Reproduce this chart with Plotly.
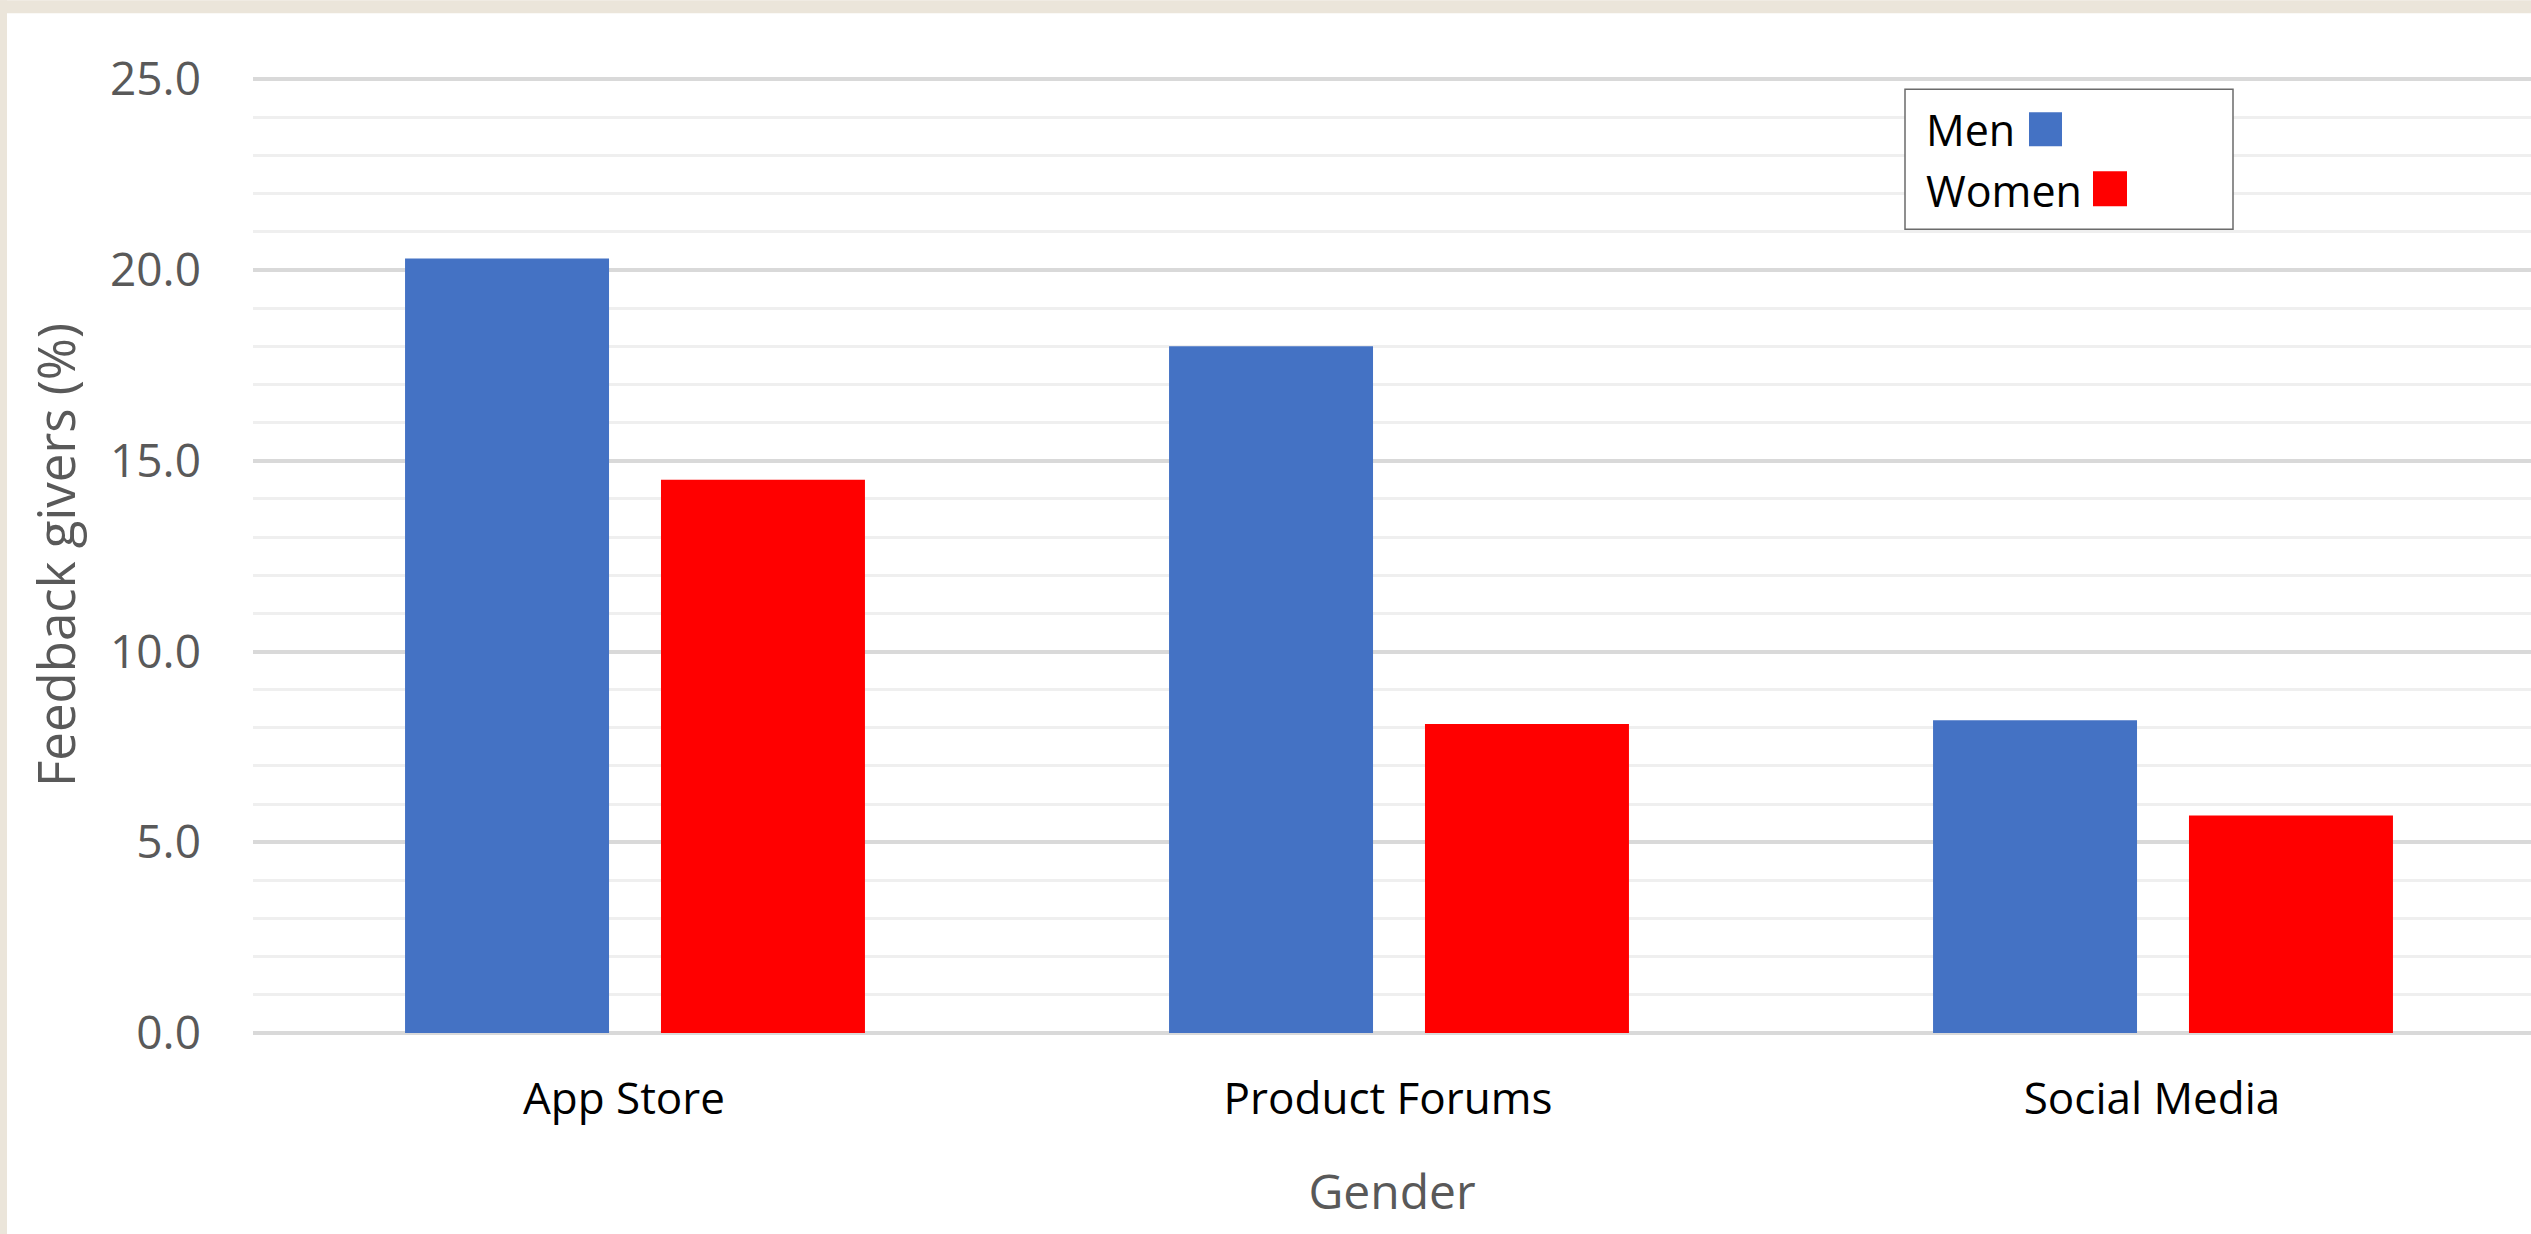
import plotly.graph_objects as go

categories = ["App Store", "Product Forums", "Social Media"]
men = [20.3, 18.0, 8.2]
women = [14.5, 8.1, 5.7]
series_names = ["Men", "Women"]
y_ticks = [0, 5, 10, 15, 20, 25]

W, H = 2531, 1234
Y_MAX = 25.06
UNIT = 38.16
L, R = 253, 0
B = 201
PH = Y_MAX * UNIT
T = H - B - PH
PW = W - L - R
CAT_W = 764.0

def px_x(x):
    return (x - L) / PW

def px_y(y):
    return (H - B - y) / PH

BLUE = "#4472C4"
RED = "#FF0000"
BEIGE = "#ebe5da"
FONT = "Open Sans"

fig = go.Figure()
fig.add_trace(go.Bar(x=categories, y=men, name=series_names[0], marker=dict(color=BLUE, line=dict(width=0)), showlegend=False))
fig.add_trace(go.Bar(x=categories, y=women, name=series_names[1], marker=dict(color=RED, line=dict(width=0)), showlegend=False))

shapes = [
    dict(type="rect", xref="paper", yref="paper", x0=px_x(0), x1=px_x(W), y0=px_y(0), y1=px_y(13),
         fillcolor=BEIGE, line=dict(width=0), layer="below"),
    dict(type="rect", xref="paper", yref="paper", x0=px_x(0), x1=px_x(7), y0=px_y(0), y1=px_y(H),
         fillcolor=BEIGE, line=dict(width=0), layer="below"),
    dict(type="rect", xref="paper", yref="paper", x0=px_x(1905), x1=px_x(2233), y0=px_y(89), y1=px_y(229),
         fillcolor="white", line=dict(color="#6b6b6b", width=1.5), layer="above"),
    dict(type="rect", xref="paper", yref="paper", x0=px_x(2029), x1=px_x(2062), y0=px_y(112), y1=px_y(146),
         fillcolor=BLUE, line=dict(width=0), layer="above"),
    dict(type="rect", xref="paper", yref="paper", x0=px_x(2093), x1=px_x(2127), y0=px_y(171), y1=px_y(206),
         fillcolor=RED, line=dict(width=0), layer="above"),
]

annotations = [
    dict(text=series_names[0], xref="paper", yref="paper", x=px_x(1924), y=px_y(129), xanchor="left", yanchor="middle",
         showarrow=False, font=dict(family=FONT, size=43, color="black")),
    dict(text=series_names[1], xref="paper", yref="paper", x=px_x(1924), y=px_y(190), xanchor="left", yanchor="middle",
         showarrow=False, font=dict(family=FONT, size=43, color="black")),
]

fig.update_layout(
    width=W, height=H, autosize=False,
    margin=dict(l=L, r=R, t=T, b=B, pad=0),
    paper_bgcolor="white", plot_bgcolor="white",
    barmode="group", bargap=0.33, bargroupgap=0.203,
    font=dict(family=FONT),
    shapes=shapes, annotations=annotations,
    showlegend=False,
)

fig.update_xaxes(
    range=[-0.5, -0.5 + PW / CAT_W],
    showgrid=False, showline=False, zeroline=False, ticks="",
    tickfont=dict(family=FONT, size=44, color="black"),
    ticklabelstandoff=36, ticklabelshift=-11,
    title=dict(text="Gender", font=dict(family=FONT, size=48, color="#595959"), standoff=49),
)

fig.update_yaxes(
    range=[0, Y_MAX], tickvals=y_ticks, tickformat=".1f",
    showgrid=True, gridcolor="#d9d9d9", gridwidth=3.5,
    zeroline=True, zerolinecolor="#d9d9d9", zerolinewidth=3.5,
    showline=False, ticks="",
    minor=dict(dtick=1, showgrid=True, gridcolor="#efefef", gridwidth=2.5),
    tickfont=dict(family=FONT, size=46, color="#595959"),
    ticklabelstandoff=51,
    title=dict(text="Feedback givers (%)", font=dict(family=FONT, size=51, color="#595959"), standoff=18),
)

fig.write_html("out.html")
